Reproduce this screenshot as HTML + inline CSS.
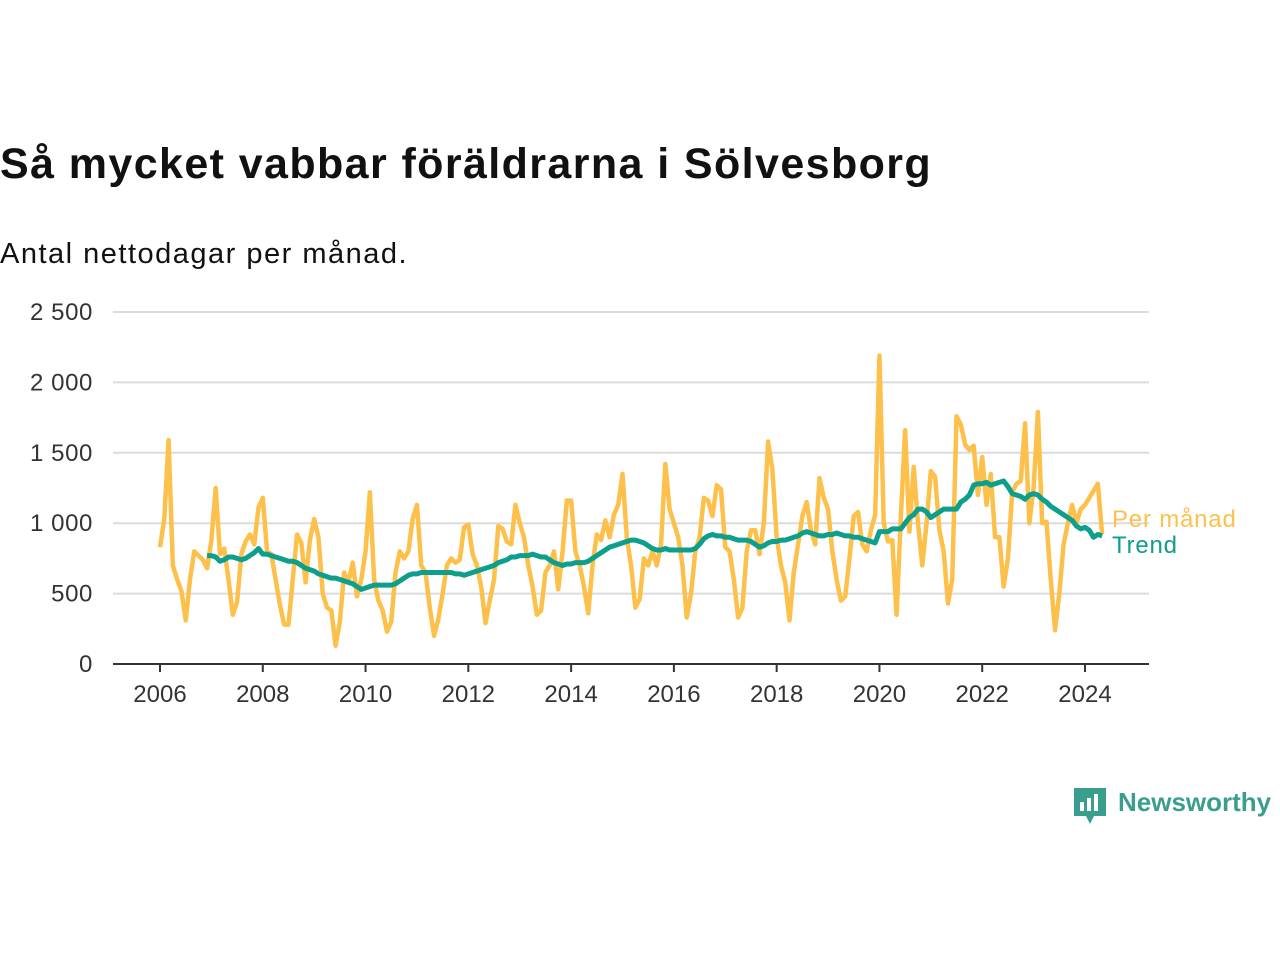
<!DOCTYPE html>
<html><head><meta charset="utf-8">
<style>
body{margin:0;background:#fff;width:1280px;height:960px;overflow:hidden;font-family:"Liberation Sans",sans-serif;}
#title{position:absolute;left:0;top:140px;font-size:43px;font-weight:bold;color:#111;white-space:nowrap;letter-spacing:1.4px;}
#sub{position:absolute;left:0;top:238px;font-size:29px;color:#111;letter-spacing:1.5px;white-space:nowrap;}
svg{position:absolute;left:0;top:0;}
</style></head><body>
<div id="title">Så mycket vabbar föräldrarna i Sölvesborg</div>
<div id="sub">Antal nettodagar per månad.</div>
<svg id="chart" width="1280" height="960"></svg>
<script>
const yTicks=[0,500,1000,1500,2000,2500];
const yTickLabels=["0","500","1 000","1 500","2 000","2 500"];
const xTicks=[2006,2008,2010,2012,2014,2016,2018,2020,2022,2024];
const startYear=2006;
const monthly=[
830,1030,1590,700,600,520,310,600,800,770,740,680,
880,1250,780,820,600,350,440,780,870,920,850,1110,
1180,800,780,600,420,280,280,600,920,860,580,880,
1030,900,500,400,380,130,300,650,580,720,480,600,
800,1220,600,450,380,230,300,650,800,750,800,1030,
1130,700,650,400,200,320,500,700,750,720,740,970,
990,780,700,550,290,450,600,980,960,870,850,1130,
1000,900,700,550,350,380,650,700,800,530,800,1160,
1160,800,700,550,360,700,920,880,1020,900,1060,1130,
1350,900,700,400,460,750,700,800,700,850,1420,1100,
1000,900,700,330,500,800,900,1180,1160,1050,1270,1240,
830,800,600,330,400,800,950,950,780,1000,1580,1380,
900,700,580,310,650,850,1050,1150,950,850,1320,1180,
1100,800,600,450,480,750,1050,1080,850,800,950,1060,
2190,1000,870,880,350,1050,1660,940,1400,1000,700,1000,
1370,1330,950,800,430,600,1760,1700,1560,1520,1550,1200,
1470,1130,1350,900,900,550,750,1220,1280,1300,1710,1000,
1250,1790,1000,1010,600,240,500,850,1000,1130,1000,1100,
1130,1180,1230,1280,920];
const trendStart=11;
const trend=[770,
770,760,730,740,760,760,750,740,750,770,790,820,
780,780,770,760,750,740,730,730,720,700,680,670,
660,640,630,620,610,610,600,590,580,570,550,530,
540,550,560,560,560,560,560,570,590,610,630,640,
640,650,650,650,650,650,650,650,650,640,640,630,
640,650,660,670,680,690,700,720,730,740,760,760,
770,770,770,780,770,760,760,740,720,710,700,710,
710,720,720,720,730,750,770,790,810,830,840,850,
860,870,880,880,870,860,840,820,810,810,820,810,
810,810,810,810,810,820,850,890,910,920,910,910,
900,900,890,880,880,880,870,850,830,840,860,870,
870,880,880,890,900,910,930,940,930,920,910,910,
920,920,930,920,910,910,900,900,890,880,870,860,
940,940,940,960,960,960,1000,1040,1060,1100,1100,1080,
1040,1060,1080,1100,1100,1100,1100,1150,1170,1200,1270,1280,
1280,1290,1270,1280,1290,1300,1260,1210,1200,1190,1170,1200,
1210,1200,1170,1150,1120,1100,1080,1060,1040,1020,980,960,
970,950,900,920,910];
const NS="http://www.w3.org/2000/svg";
const svg=document.getElementById('chart');
const x0=160,x1=1085,y0=664,y1=312;
function xYear(y){return x0+(y-2006)*(x1-x0)/18;}
function xIdx(i){return xYear(startYear+i/12);}
function yv(v){return y0-v*(y0-y1)/2500;}
function mk(tag,attrs){const e=document.createElementNS(NS,tag);for(const k in attrs)e.setAttribute(k,attrs[k]);svg.appendChild(e);return e;}
yTicks.forEach((t,i)=>{
  if(t>0){const g=mk('line',{x1:113,x2:1149,y1:yv(t),y2:yv(t),stroke:'#dcdcdc','stroke-width':2});
  
  }
  const l=mk('text',{x:93,y:yv(t)+8,'text-anchor':'end','font-size':24,fill:'#333','font-family':'Liberation Sans, sans-serif','letter-spacing':0.6});
  l.textContent=yTickLabels[i];
  
  
});
const ax=mk('line',{x1:113,x2:1149,y1:y0,y2:y0,stroke:'#333','stroke-width':2});


xTicks.forEach(t=>{
  const tk=mk('line',{x1:xYear(t),x2:xYear(t),y1:y0,y2:y0+8,stroke:'#333','stroke-width':2});
  
  
  const l=mk('text',{x:xYear(t),y:702,'text-anchor':'middle','font-size':24,fill:'#333','font-family':'Liberation Sans, sans-serif'});
  l.textContent=t;
  
  
});
const p1=mk('polyline',{points:monthly.map((v,i)=>xIdx(i)+','+yv(v)).join(' '),fill:'none',stroke:'#fdc04a','stroke-width':4.5,'stroke-linejoin':'round'});


const p2=mk('polyline',{points:trend.map((v,i)=>xIdx(i+trendStart)+','+yv(v)).join(' '),fill:'none',stroke:'#0e9e8c','stroke-width':5,'stroke-linejoin':'round'});


const la=mk('text',{x:1112,y:527,'font-size':24,fill:'#fdc04a','font-family':'Liberation Sans, sans-serif','letter-spacing':0.8});
la.textContent='Per månad';


const lb=mk('text',{x:1112,y:553,'font-size':24,fill:'#0e9e8c','font-family':'Liberation Sans, sans-serif','letter-spacing':0.8});
lb.textContent='Trend';


</script>
<div style="position:absolute;left:1072px;top:786px;width:208px;height:40px;">
<svg width="36" height="40" style="position:absolute;left:0;top:0"><path d="M2 2h32v28h-12l-4 8l-4-8h-12z" fill="#3a9e8f"/><rect x="8" y="16" width="4" height="9" fill="#fff"/><rect x="15" y="12" width="4" height="13" fill="#fff"/><rect x="22" y="8" width="4" height="17" fill="#fff"/></svg>
<span style="position:absolute;left:46px;top:1px;font-size:26px;font-weight:bold;color:#3a9e8f;white-space:nowrap;">Newsworthy</span>
</div>
</body></html>
